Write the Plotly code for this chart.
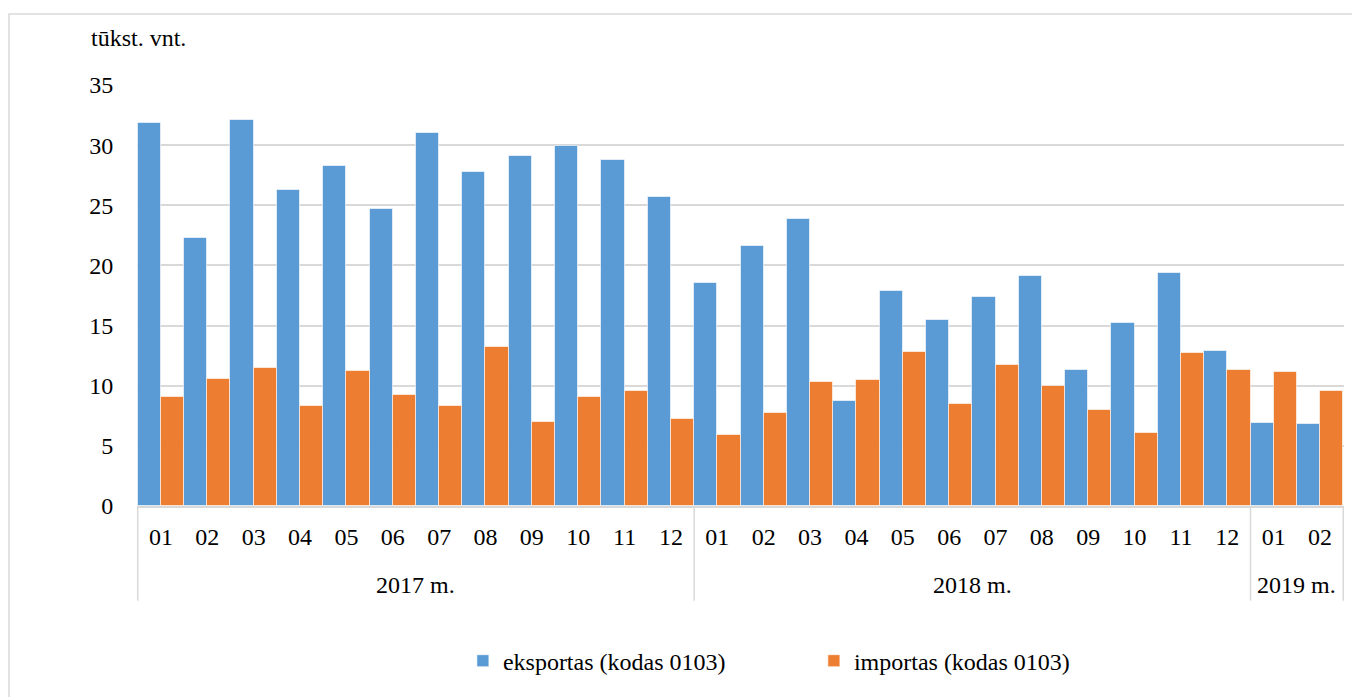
import plotly.graph_objects as go

years = ["2017 m.", "2018 m.", "2019 m."]
months_per_year = [12, 12, 2]
months = [f"{m:02d}" for m in range(1, 13)] * 2 + ["01", "02"]
periods = [f"{y[:4]}-{m}" for y, n in zip(years, months_per_year) for m in months[:n]]

eksportas = [31.8, 22.3, 32.1, 26.3, 28.3, 24.7, 31.0, 27.8, 29.1, 29.9, 28.8, 25.7,
             18.5, 21.6, 23.9, 8.7, 17.9, 15.5, 17.4, 19.1, 11.3, 15.2, 19.4, 12.9,
             6.9, 6.8]
importas = [9.1, 10.6, 11.5, 8.3, 11.2, 9.2, 8.3, 13.2, 7.0, 9.1, 9.6, 7.2,
            5.9, 7.7, 10.3, 10.5, 12.8, 8.5, 11.7, 10.0, 8.0, 6.1, 12.7, 11.3,
            11.1, 9.6]

colors = {
    "export": "#5B9BD5",
    "import": "#ED7D31",
    "grid": "#D9D9D9",
    "text": "#000000",
}
FONT = "Times New Roman, Liberation Serif, serif"
SIZE = 24

fig = go.Figure()
fig.add_trace(
    go.Bar(
        x=periods,
        y=eksportas,
        name="eksportas (kodas 0103)",
        marker=dict(color=colors["export"], line=dict(color="rgba(255,255,255,0.6)", width=1)),
    )
)
fig.add_trace(
    go.Bar(
        x=periods,
        y=importas,
        name="importas (kodas 0103)",
        marker=dict(color=colors["import"], line=dict(color="rgba(255,255,255,0.6)", width=1)),
    )
)

# the page adds an 8px body margin, so the figure is 8px smaller than the window
fig.update_layout(
    width=1352,
    height=689,
    paper_bgcolor="white",
    plot_bgcolor="white",
    font=dict(family=FONT, size=SIZE, color=colors["text"]),
    barmode="group",
    bargap=0,
    bargroupgap=0,
    margin=dict(l=129, r=16, t=77, b=191, autoexpand=False),
    showlegend=True,
    legend=dict(
        orientation="h",
        x=0.27,
        xanchor="left",
        y=-0.315,
        yanchor="top",
        entrywidth=306,
        entrywidthmode="pixels",
        itemwidth=30,
        font=dict(family=FONT, size=SIZE),
    ),
)

fig.update_yaxes(
    range=[0, 35],
    dtick=5,
    showgrid=True,
    gridcolor=colors["grid"],
    gridwidth=1.5,
    zeroline=False,
    showline=False,
    ticks="outside",
    ticklen=18,
    tickcolor="white",
    tickfont=dict(family=FONT, size=SIZE),
)
fig.update_xaxes(
    type="category",
    tickvals=periods,
    ticktext=months,
    showline=True,
    linecolor=colors["grid"],
    linewidth=1.5,
    ticks="",
    ticklabelstandoff=8,
    tickfont=dict(family=FONT, size=SIZE),
)

# year labels and group dividers under the axis
start = 0
fig.add_shape(type="line", xref="x", yref="paper", x0=-0.5, x1=-0.5, y0=0, y1=-0.225,
              line=dict(color=colors["grid"], width=1.5))
for year, n in zip(years, months_per_year):
    end = start + n
    fig.add_annotation(
        text=year, xref="x", yref="paper", x=(start + end - 1) / 2, y=-0.188,
        xanchor="center", yanchor="middle", showarrow=False,
        font=dict(family=FONT, size=SIZE),
    )
    fig.add_shape(type="line", xref="x", yref="paper", x0=end - 0.5, x1=end - 0.5,
                  y0=0, y1=-0.225, line=dict(color=colors["grid"], width=1.5))
    start = end

fig.add_annotation(
    text="tūkst. vnt.",
    xref="paper",
    yref="paper",
    x=-0.04,
    y=1.112,
    xanchor="left",
    yanchor="middle",
    showarrow=False,
    font=dict(family=FONT, size=SIZE),
)

# outer frame
fig.add_shape(
    type="rect",
    xref="paper",
    yref="paper",
    x0=-128 / 1207,
    x1=1.03,
    y0=-0.5,
    y1=(506 - 14) / 421,
    line=dict(color=colors["grid"], width=1.5),
    layer="below",
)

fig.write_html("out.html")
